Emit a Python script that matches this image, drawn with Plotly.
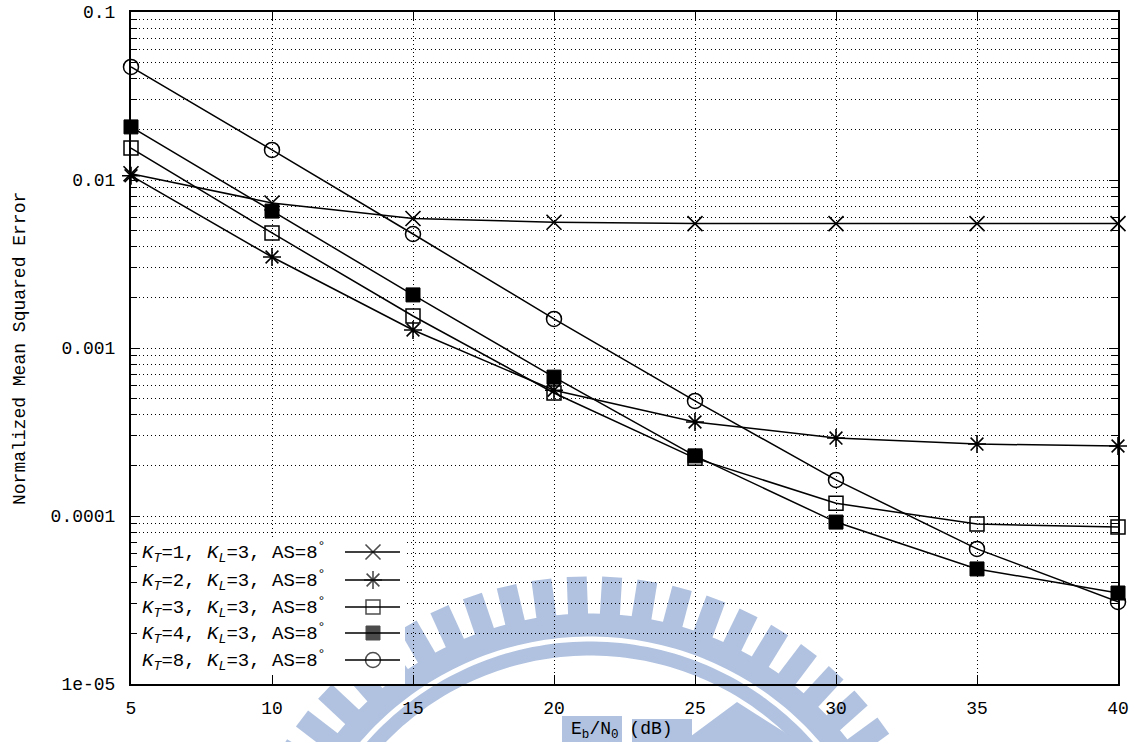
import numpy as np
import plotly.graph_objects as go

# ---------------------------------------------------------------- data
snr_db = [5, 10, 15, 20, 25, 30, 35, 40]

nmse_kt1 = [0.0109, 0.0073, 0.0059, 0.0056, 0.0055, 0.0055, 0.0055, 0.0055]
nmse_kt2 = [0.0106, 0.00348, 0.00128, 0.00056, 0.000363, 0.000291, 0.000268, 0.000261]
nmse_kt3 = [0.0155, 0.00484, 0.00155, 0.00054, 0.000221, 0.000119, 0.0000895, 0.000086]
nmse_kt4 = [0.0207, 0.00653, 0.00207, 0.000671, 0.000228, 0.000092, 0.0000484, 0.0000348]
nmse_kt8 = [0.0471, 0.0151, 0.00477, 0.00149, 0.000484, 0.000164, 0.0000637, 0.0000308]

kt_values = [1, 2, 3, 4, 8]
y_major = [1e-5, 1e-4, 1e-3, 1e-2, 1e-1]
y_major_text = ["1e-05", "0.0001", "0.001", "0.01", "0.1"]

# ---------------------------------------------------------------- style
FONT = "Liberation Mono"
INK = "black"
WM = "#b0c2e0"          # watermark blue
DOTS = "1px,3px"
W, H = 1139, 742
PL, PR, PT, PB = 131, 1118, 12, 684   # plot area in page pixels


def fx(x):
    """page pixel -> paper x"""
    return (x - PL) / (PR - PL)


def fy(y):
    """page pixel -> paper y"""
    return (PB - y) / (PB - PT)


series = [
    (nmse_kt1, dict(symbol="x-thin-open", size=15, line=dict(width=1.6, color=INK), color=INK)),
    (nmse_kt2, dict(symbol="asterisk-open", size=15, line=dict(width=1.6, color=INK), color=INK)),
    (nmse_kt3, dict(symbol="square-open", size=14, line=dict(width=1.5, color=INK), color=INK)),
    (nmse_kt4, dict(symbol="square", size=14, line=dict(width=1, color=INK), color=INK)),
    (nmse_kt8, dict(symbol="circle-open", size=15, line=dict(width=1.5, color=INK), color=INK)),
]

fig = go.Figure()

for vals, mk in series:
    fig.add_trace(go.Scatter(
        x=snr_db, y=vals, mode="lines+markers",
        line=dict(color=INK, width=1.5), marker=mk,
        cliponaxis=False, showlegend=False, hoverinfo="skip",
    ))

# ---------------------------------------------------------------- key (text left, sample right)
# opaque key background on the overlay axes, so the grid stays hidden behind it
kx0, kx1, ky0, ky1 = fx(PL), fx(405), fy(PB), fy(537)
fig.add_trace(go.Scatter(
    x=[kx0, kx1, kx1, kx0, kx0], y=[ky0, ky0, ky1, ky1, ky0],
    xaxis="x2", yaxis="y2", mode="lines", fill="toself",
    fillcolor="white", line=dict(width=0, color="white"),
    showlegend=False, hoverinfo="skip",
))

key_rows_y = [552, 580, 607, 633, 660]
annotations = []
for kt, (vals, mk), ry in zip(kt_values, series, key_rows_y):
    sizes = [0, mk["size"], 0]
    fig.add_trace(go.Scatter(
        x=[fx(345), fx(373), fx(400)], y=[fy(ry)] * 3,
        xaxis="x2", yaxis="y2", mode="lines+markers",
        line=dict(color=INK, width=1.5),
        marker=dict(mk, size=sizes),
        showlegend=False, hoverinfo="skip", cliponaxis=False,
    ))
    annotations.append(dict(
        xref="paper", yref="paper", x=fx(140), y=fy(ry),
        xanchor="left", yanchor="middle", showarrow=False,
        text=(f"<i>K</i><sub><i>T</i></sub>={kt}, "
              f"<i>K</i><sub><i>L</i></sub>=3, AS=8<sup>°</sup>"),
        font=dict(family=FONT, size=19, color=INK),
    ))

# axis titles
annotations.append(dict(
    xref="paper", yref="paper", x=fx(20), y=fy(349), textangle=-90,
    xanchor="center", yanchor="middle", showarrow=False,
    text="Normalized Mean Squared Error",
    font=dict(family=FONT, size=18, color=INK),
))
annotations.append(dict(
    xref="paper", yref="paper", x=fx(622), y=fy(730),
    xanchor="center", yanchor="middle", showarrow=False,
    text="E<sub>b</sub>/N<sub>0</sub> (dB)",
    font=dict(family=FONT, size=18, color=INK),
))

# ---------------------------------------------------------------- watermark emblem
shapes = []
cx, cy = 590.0, 939.5


def polar(r, deg):
    t = np.radians(deg)
    return cx + r * np.sin(t), cy - r * np.cos(t)


def path_from(points):
    parts = [f"{'M' if i == 0 else 'L'} {fx(x):.5f},{fy(y):.5f}" for i, (x, y) in enumerate(points)]
    return " ".join(parts) + " Z"


def band(r_in, r_out, a0=-78, a1=78, n=120):
    angs = np.linspace(a0, a1, n)
    outer = [polar(r_out, a) for a in angs]
    inner = [polar(r_in, a) for a in angs[::-1]]
    return path_from(outer + inner)


def ray(deg, r0=318, r1=363, half=10):
    t = np.radians(deg)
    u = np.array([np.sin(t), -np.cos(t)])
    v = np.array([np.cos(t), np.sin(t)])
    c = np.array([cx, cy])
    pts = [c + r0 * u - half * v, c + r1 * u - half * v,
           c + r1 * u + half * v, c + r0 * u + half * v]
    return path_from([tuple(p) for p in pts])


wm_paths = [band(303, 326), band(284, 298)]
wm_paths += [ray(3.5 + 5.6 * k) for k in range(-11, 10)]
wm_paths.append(path_from([(683, 742), (737, 702), (800, 742)]))

for p in wm_paths:
    shapes.append(dict(type="path", path=p, xref="paper", yref="paper",
                       fillcolor=WM, line=dict(width=0), layer="below"))

# blocks behind the abscissa title
for x0, y0, x1, y1 in [(562, 716, 622, 742), (632, 719, 692, 742)]:
    shapes.append(dict(type="rect", xref="paper", yref="paper",
                       x0=fx(x0), x1=fx(x1), y0=fy(y1), y1=fy(y0),
                       fillcolor=WM, line=dict(width=0), layer="below"))

minor_vals = [m * 10.0 ** e for e in range(-5, -1) for m in range(2, 10)]

axis_common = dict(
    showline=True, linewidth=2, linecolor=INK, mirror="ticks",
    ticks="inside", ticklen=9, tickwidth=1.3, tickcolor=INK,
    showgrid=True, gridcolor=INK, gridwidth=1, griddash=DOTS,
    zeroline=False, automargin=False,
    tickfont=dict(family=FONT, size=18, color=INK),
)

fig.update_layout(
    width=W, height=H, autosize=False,
    margin=dict(l=PL, r=W - PR, t=PT, b=H - PB, autoexpand=False),
    paper_bgcolor="white", plot_bgcolor="white",
    xaxis=dict(axis_common, range=[5, 40], tickvals=snr_db,
               ticklabelstandoff=6),
    yaxis=dict(axis_common, type="log", range=[-5, -1],
               tickmode="array", tickvals=y_major, ticktext=y_major_text,
               ticklabelstandoff=10,
               minor=dict(tickmode="array", tickvals=minor_vals, ticks="inside",
                          ticklen=6, tickwidth=1, tickcolor=INK,
                          showgrid=True, gridcolor=INK, gridwidth=1, griddash=DOTS)),
    xaxis2=dict(overlaying="x", range=[0, 1], visible=False, showgrid=False,
                automargin=False),
    yaxis2=dict(overlaying="y", range=[0, 1], visible=False, showgrid=False,
                automargin=False),
    shapes=shapes,
    annotations=annotations,
    showlegend=False,
)

fig.write_html("out.html")
